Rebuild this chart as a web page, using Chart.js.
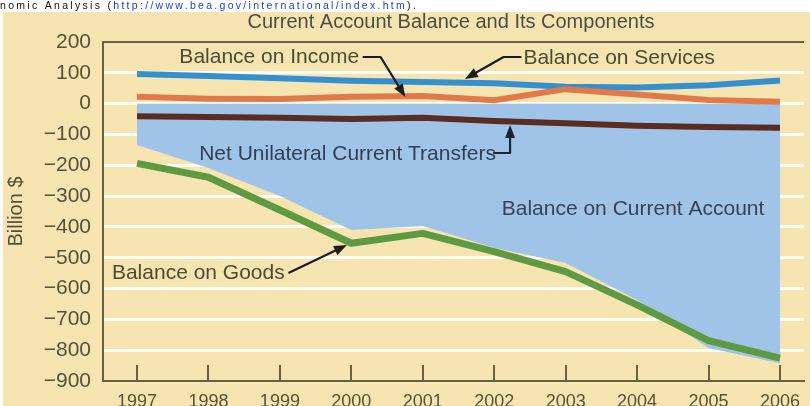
<!DOCTYPE html>
<html><head><meta charset="utf-8">
<script src="https://cdn.jsdelivr.net/npm/chart.js@4/dist/chart.umd.min.js"></script>
<style>html,body{margin:0;padding:0;background:#fff;overflow:hidden}canvas{display:block}</style>
</head><body>
<canvas id="c" width="810" height="406"></canvas>
<script>
// ---- data (billion $) ----
const years = [1997, 1998, 1999, 2000, 2001, 2002, 2003, 2004, 2005, 2006];
const balanceOnServices = [96, 90, 82, 74, 70, 66, 55, 52, 60, 75];
const balanceOnIncome = [22, 16, 15, 22, 25, 11, 47, 30, 12, 6];
const netUnilateralTransfers = [-41, -43, -46, -50, -46, -56, -64, -72, -76, -78];
const balanceOnGoods = [-194, -239, -345, -453, -421, -480, -545, -653, -769, -826];
const balanceOnCurrentAccount = [-134, -209, -300, -410, -397, -468, -517, -637, -793, -842];
const yTicks = [200, 100, 0, -100, -200, -300, -400, -500, -600, -700, -800, -900];

const titleText = 'Current Account Balance and Its Components';
const yAxisTitle = 'Billion $';
const headerParts = [
  {t: 'nomic Analysis (', c: '#111111'},
  {t: 'http://www.bea.gov/international/index.htm', c: '#1a3fd6'},
  {t: ').', c: '#111111'}
];

// annotation labels, anchored in data units (year, billion $)
const notes = [
  {text: 'Balance on Income', x: 1997.593, y: 131.9, color: '#4e4b35',
   path: [[2000.159, 151.3], [2000.409, 151.3], [2000.756, 21.5]], pathColor: '#1d1d1d'},
  {text: 'Balance on Services', x: 2002.409, y: 128.6, color: '#4e4b35',
   path: [[2002.381, 151.3], [2002.131, 151.3], [2001.590, 80]], pathColor: '#1d1d1d'},
  {text: 'Net Unilateral Current Transfers', x: 1997.870, y: -182.9, color: '#2f3f56',
   path: [[2001.986, -160.2], [2002.222, -160.2], [2002.222, -69.3]], pathColor: '#1b2433'},
  {text: 'Balance on Current Account', x: 2002.105, y: -361.4, color: '#34445b', path: null},
  {text: 'Balance on Goods', x: 1996.649, y: -569, color: '#4e4b35',
   path: [[1999.120, -549.6], [1999.939, -458.7]], pathColor: '#1d1d1d'}
];

const FONT = "'Liberation Sans', Arial, Helvetica, sans-serif";
const AXIS_COLOR = '#6b6142';
const LABEL_COLOR = '#56523a';

const pts = arr => years.map((yr, i) => ({x: yr, y: arr[i]}));

function drawArrow(ctx, p, color) {
  ctx.save();
  ctx.strokeStyle = color; ctx.fillStyle = color;
  ctx.lineWidth = 2.2; ctx.lineJoin = 'round'; ctx.lineCap = 'butt';
  const n = p.length;
  const a = p[n - 2], b = p[n - 1];
  const ang = Math.atan2(b.y - a.y, b.x - a.x);
  const L = 13, W = 5;
  ctx.beginPath();
  ctx.moveTo(p[0].x, p[0].y);
  for (let i = 1; i < n - 1; i++) ctx.lineTo(p[i].x, p[i].y);
  ctx.lineTo(b.x - (L - 2) * Math.cos(ang), b.y - (L - 2) * Math.sin(ang));
  ctx.stroke();
  const cx = Math.cos(ang), sy = Math.sin(ang);
  ctx.beginPath();
  ctx.moveTo(b.x, b.y);
  ctx.lineTo(b.x - L * cx + W * sy, b.y - L * sy - W * cx);
  ctx.lineTo(b.x - L * cx - W * sy, b.y - L * sy + W * cx);
  ctx.closePath();
  ctx.fill();
  ctx.restore();
}

const decor = {
  id: 'decor',
  beforeDraw(chart) {
    const ctx = chart.ctx;
    ctx.save();
    ctx.fillStyle = '#ffffff';
    ctx.fillRect(0, 0, chart.width, chart.height);
    ctx.fillStyle = '#f6e5b1';
    ctx.fillRect(3, 12, chart.width - 3, chart.height - 12);
    // header line (cut-off web page caption)
    ctx.font = '10.5px ' + FONT;
    ctx.letterSpacing = '2.3px';
    ctx.textBaseline = 'alphabetic';
    let x = 0;
    headerParts.forEach(part => {
      ctx.fillStyle = part.c;
      ctx.fillText(part.t, x, 9);
      x += ctx.measureText(part.t).width;
    });
    ctx.letterSpacing = '0px';
    // title
    ctx.font = '20px ' + FONT;
    ctx.fillStyle = '#4f4c42';
    ctx.textAlign = 'center';
    ctx.fillText(titleText, 451, 28);
    ctx.restore();
  },
  afterDatasetsDraw(chart) {
    const ctx = chart.ctx;
    const xs = chart.scales.x, ys = chart.scales.y;
    const area = chart.chartArea;
    ctx.save();
    // inward tick marks on x axis
    ctx.strokeStyle = AXIS_COLOR;
    ctx.lineWidth = 2;
    years.forEach(yr => {
      const px = Math.round(xs.getPixelForValue(yr));
      ctx.beginPath();
      ctx.moveTo(px, area.bottom);
      ctx.lineTo(px, area.bottom - 16);
      ctx.stroke();
    });
    // annotations
    ctx.font = '21px ' + FONT;
    ctx.textAlign = 'left';
    ctx.textBaseline = 'alphabetic';
    notes.forEach(n => {
      ctx.fillStyle = n.color;
      ctx.fillText(n.text, xs.getPixelForValue(n.x), ys.getPixelForValue(n.y));
      if (n.path) {
        const p = n.path.map(q => ({x: xs.getPixelForValue(q[0]), y: ys.getPixelForValue(q[1])}));
        drawArrow(ctx, p, n.pathColor);
      }
    });
    ctx.restore();
  }
};

const lineDs = (label, arr, color, width, order) => ({
  label, data: pts(arr), borderColor: color, borderWidth: width,
  pointRadius: 0, tension: 0, fill: false, order,
  borderCapStyle: 'butt', borderJoinStyle: 'round'
});

new Chart(document.getElementById('c'), {
  type: 'line',
  data: {
    datasets: [
      lineDs('Balance on Goods', balanceOnGoods, '#5e9a42', 7, 1),
      lineDs('Net Unilateral Current Transfers', netUnilateralTransfers, '#5a2c22', 6, 2),
      lineDs('Balance on Income', balanceOnIncome, '#e07a4b', 6, 3),
      lineDs('Balance on Services', balanceOnServices, '#3590d0', 6, 4),
      {
        label: 'Balance on Current Account', data: pts(balanceOnCurrentAccount),
        backgroundColor: '#9fc4e8', borderWidth: 0, borderColor: 'rgba(0,0,0,0)',
        pointRadius: 0, tension: 0, fill: 'origin', order: 10
      }
    ]
  },
  options: {
    responsive: false,
    animation: false,
    devicePixelRatio: 1,
    layout: {padding: {top: 42, left: 0, right: 0, bottom: 0}},
    plugins: {legend: {display: false}, tooltip: {enabled: false}, title: {display: false}},
    scales: {
      x: {
        type: 'linear',
        min: 1996.524, max: 2006.337,
        afterBuildTicks: s => { s.ticks = years.map(v => ({value: v})); },
        afterFit: s => { s.height = 25; },
        grid: {display: false, drawTicks: false},
        border: {display: true, color: AXIS_COLOR, width: 2},
        ticks: {
          autoSkip: false, maxRotation: 0, padding: 10,
          color: LABEL_COLOR, font: {family: FONT, size: 18},
          callback: v => String(v)
        }
      },
      y: {
        type: 'linear',
        min: -900, max: 200,
        afterBuildTicks: s => { s.ticks = yTicks.map(v => ({value: v})); },
        afterFit: s => { s.width = 103; },
        grid: {
          drawTicks: false,
          color: c => c.tick.value === 200 ? AXIS_COLOR : (c.tick.value === -900 ? 'rgba(0,0,0,0)' : '#fffdf6'),
          lineWidth: c => c.tick.value === 200 ? 2 : 3
        },
        border: {display: true, color: AXIS_COLOR, width: 2},
        ticks: {
          padding: 12, color: LABEL_COLOR, font: {family: FONT, size: 21},
          callback: v => v < 0 ? '\u2212' + Math.abs(v) : String(v)
        },
        title: {
          display: true, text: yAxisTitle, color: LABEL_COLOR,
          font: {family: FONT, size: 20}, padding: {top: 4, bottom: 0}
        }
      }
    }
  },
  plugins: [decor]
});
</script>
</body></html>
